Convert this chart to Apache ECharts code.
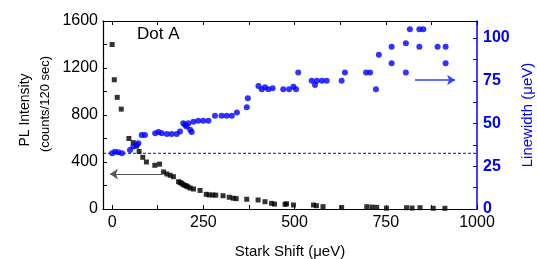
<!DOCTYPE html>
<html>
<head>
<meta charset="utf-8">
<script src="https://cdn.jsdelivr.net/npm/echarts@6/dist/echarts.min.js"></script>
<style>
html, body { margin: 0; padding: 0; background: #fff; }
#chart_1 { width: 537px; height: 259px; }
</style>
</head>
<body>
<div id="chart_1"></div>
<script>
// PL intensity (black squares): stark shift (ueV) / counts per 120 sec
var plShift = [0, 6, 14, 25, 46, 58, 66, 74, 84, 94, 117, 130, 141, 150, 159, 168, 182, 187, 191, 195,
    200, 204, 208, 214, 223, 241, 258, 266, 276, 284, 304, 321, 332, 340, 369, 400, 419, 437, 445, 474,
    478, 497, 552, 560, 578, 629, 698, 712, 725, 752, 807, 822, 844, 880, 912];
var plCounts = [1400, 1100, 950, 850, 600, 565, 535, 490, 440, 400, 372, 382, 315, 298, 287, 275, 232, 225, 218, 207,
    200, 195, 188, 178, 170, 158, 125, 120, 119, 118, 113, 100, 92, 88, 83, 77, 62, 48, 42, 40,
    44, 34, 34, 28, 20, 12, 20, 16, 14, 7, 11, 8, 11, 6, 6];

// linewidth (blue dots): stark shift (ueV) / linewidth (ueV)
var lwShift = [0, 8, 17, 27, 49, 58, 68, 72, 81, 90, 118, 127, 136, 150, 163, 177, 186, 195, 200, 204,
    209, 214, 218, 223, 236, 250, 264, 282, 300, 314, 328, 342, 369, 372, 401, 410, 419, 428, 440, 469,
    485, 497, 504, 510, 547, 556, 561, 575, 588, 629, 638, 696, 707, 723, 731, 766, 766, 805, 805, 816,
    842, 853, 842, 892, 914, 914];
var lwValue = [32.6, 33.5, 33.2, 32.6, 34.5, 36.5, 37.5, 38.5, 43.3, 43.3, 44.3, 45, 44.3, 43.9, 43.9, 43.9, 45.3, 50.2, 49.2, 48.2,
    50.2, 46.3, 45, 51.1, 51.7, 51.7, 51.7, 54.5, 54.5, 54.5, 54.6, 56.4, 59.5, 64.8, 72, 70, 71.2, 70, 70.7, 70,
    70, 71.6, 70, 79.8, 75.1, 72.6, 75.1, 75.1, 75.1, 75.1, 79.8, 79.8, 79.8, 70, 90.2, 95, 85.3, 97, 79.8, 105.2,
    105.2, 105.2, 95, 95, 95, 85.3];

// dashed reference level on the linewidth axis
var resolutionShift = [-25, 1000];
var resolutionLimit = [32.6, 32.6];

var xLabels = [0, 250, 500, 750, 1000];
var xTicks = [0, 125, 250, 375, 500, 625, 750, 875, 1000];
var rightLabels = [0, 25, 50, 75, 100];
var rightTicks = [0, 12.5, 25, 37.5, 50, 62.5, 75, 87.5, 100];

var font = 'Liberation Sans, Arial, sans-serif';
var blue = '#0000ff';

function pairs(xs, ys) {
    var out = [];
    for (var i = 0; i < xs.length; i++) out.push([xs[i], ys[i]]);
    return out;
}
function plain(v) { return String(v); }

var dom = document.getElementById('chart_1');
var myChart = echarts.init(dom, null, { renderer: 'canvas' });

var option = {
    animation: false,
    backgroundColor: '#fff',
    grid: { left: 103, right: 60, top: 21, bottom: 50, containLabel: false, outerBoundsMode: 'none' },
    xAxis: [
        {
            type: 'value', min: -25, max: 1000, position: 'bottom',
            axisLine: { show: true, onZero: false, lineStyle: { color: '#000', width: 1.2 } },
            axisTick: { show: true, inside: true, length: 4, customValues: xTicks, lineStyle: { color: '#000' } },
            axisLabel: { customValues: xLabels, formatter: plain, margin: 6, color: '#000', fontSize: 16, fontFamily: font },
            splitLine: { show: false },
            name: 'Stark Shift (μeV)', nameLocation: 'middle', nameGap: 35,
            nameTextStyle: { color: '#000', fontSize: 15, fontFamily: font }
        },
        {
            type: 'value', min: -25, max: 1000, position: 'top',
            axisLine: { show: true, onZero: false, lineStyle: { color: '#000', width: 1.2 } },
            axisTick: { show: true, inside: true, length: 4, customValues: xTicks, lineStyle: { color: '#000' } },
            axisLabel: { show: false },
            splitLine: { show: false }
        }
    ],
    yAxis: [
        {
            type: 'value', min: 0, max: 1600, interval: 400, position: 'left',
            axisLine: { show: true, onZero: false, lineStyle: { color: '#000', width: 1.2 } },
            axisTick: { show: true, inside: true, length: 4, lineStyle: { color: '#000' } },
            minorTick: { show: true, splitNumber: 2, length: 4, lineStyle: { color: '#000' } },
            axisLabel: { formatter: plain, margin: 5, color: '#000', fontSize: 16, fontFamily: font },
            splitLine: { show: false }
        },
        {
            type: 'value', min: 0, max: 110, position: 'right',
            axisLine: { show: true, onZero: false, lineStyle: { color: blue, width: 1.5 } },
            axisTick: { show: true, inside: true, length: 4, customValues: rightTicks, lineStyle: { color: blue } },
            axisLabel: { customValues: rightLabels, formatter: plain, margin: 6, color: blue, fontSize: 16, fontWeight: 'bold', fontFamily: font },
            splitLine: { show: false },
            name: 'Linewidth (μeV)', nameLocation: 'middle', nameGap: 35, nameRotate: 90,
            nameTextStyle: { color: blue, fontSize: 15, fontFamily: font }
        }
    ],
    graphic: [
        { type: 'text', x: 137, y: 26, style: { text: 'Dot A', fill: '#000', font: '17px ' + font } },
        { type: 'text', x: 25, y: 110, rotation: Math.PI / 2,
          style: { text: 'PL Intensity', fill: '#000', font: '14px ' + font, align: 'center', verticalAlign: 'middle' } },
        { type: 'text', x: 45, y: 104, rotation: Math.PI / 2,
          style: { text: '(counts/120 sec)', fill: '#000', font: '13px ' + font, align: 'center', verticalAlign: 'middle' } }
    ],
    series: [
        {
            name: 'Resolution', type: 'line', xAxisIndex: 0, yAxisIndex: 1,
            symbol: 'none', silent: true, z: 1,
            lineStyle: { color: blue, type: [3, 2], width: 1 },
            data: pairs(resolutionShift, resolutionLimit)
        },
        {
            name: 'PL Intensity', type: 'scatter', xAxisIndex: 0, yAxisIndex: 0,
            symbol: 'rect', symbolSize: 5,
            itemStyle: { color: '#000' },
            data: pairs(plShift, plCounts),
            markLine: {
                silent: true, symbol: ['none', 'arrow'], symbolSize: 8,
                label: { show: false },
                lineStyle: { color: '#555', type: 'solid', width: 1.2 },
                data: [[{ coord: [137, 297] }, { coord: [-6, 297] }]]
            }
        },
        {
            name: 'Linewidth', type: 'scatter', xAxisIndex: 0, yAxisIndex: 1,
            symbol: 'circle', symbolSize: 6,
            itemStyle: { color: blue },
            data: pairs(lwShift, lwValue),
            markLine: {
                silent: true, symbol: ['none', 'arrow'], symbolSize: 8,
                label: { show: false },
                lineStyle: { color: '#3344ff', type: 'solid', width: 1.5 },
                data: [[{ coord: [830, 75.5] }, { coord: [940, 75.5] }]]
            }
        }
    ]
};

myChart.setOption(option, true);
</script>
</body>
</html>
